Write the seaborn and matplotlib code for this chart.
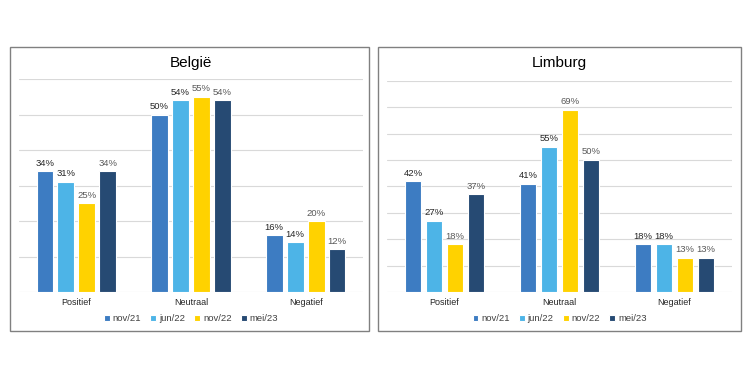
import matplotlib
matplotlib.use("Agg")
import matplotlib.pyplot as plt
from matplotlib.patches import Rectangle
import pandas as pd
import seaborn as sns

# ── Data ──────────────────────────────────────────────────────────────────────
categories = ["Positief", "Neutraal", "Negatief"]
periods = ["nov/21", "jun/22", "nov/22", "mei/23"]

belgie_nov21 = [34, 50, 16]
belgie_jun22 = [31, 54, 14]
belgie_nov22 = [25, 55, 20]
belgie_mei23 = [34, 54, 12]

limburg_nov21 = [42, 41, 18]
limburg_jun22 = [27, 55, 18]
limburg_nov22 = [18, 69, 13]
limburg_mei23 = [37, 50, 13]

# ── Style ─────────────────────────────────────────────────────────────────────
colors = ["#3D7CC2", "#4DB4E7", "#FFD200", "#264A73"]
label_colors = ["#262626", "#262626", "#595959", "#595959"]

sns.set_style("white")
plt.rcParams["font.family"] = ["Liberation Sans", "DejaVu Sans"]


def long_table(series):
    rows = []
    for period, values in zip(periods, series):
        for cat, v in zip(categories, values):
            rows.append({"categorie": cat, "periode": period, "waarde": v})
    return pd.DataFrame(rows)


def draw_panel(ax, series, title, ymax, title_y):
    df = long_table(series)
    sns.barplot(data=df, x="categorie", y="waarde", hue="periode",
                order=categories, hue_order=periods, palette=colors,
                width=0.73, gap=0.2, edgecolor="white", linewidth=0.8,
                saturation=1, ax=ax)
    for container, lc in zip(ax.containers, label_colors):
        ax.bar_label(container, fmt="%d%%", padding=2.5, color=lc,
                     fontsize=6.8)

    ax.set_xlim(-0.5, 2.5)
    ax.set_ylim(0, ymax)
    ax.set_yticks(range(0, ymax + 1, 10))
    ax.set_yticklabels([])
    ax.yaxis.grid(True, color="#D9D9D9", linewidth=0.8)
    ax.set_axisbelow(True)
    ax.tick_params(axis="both", length=0)
    ax.tick_params(axis="x", labelsize=6.5, pad=4.5, colors="#262626")
    ax.set_xlabel("")
    ax.set_ylabel("")
    for s in ax.spines.values():
        s.set_visible(False)

    ax.text(0.5, title_y, title, transform=ax.transAxes, ha="center",
            va="center", fontsize=11, color="#000000")

    sns.move_legend(ax, "center", bbox_to_anchor=(0.5, -0.125), ncol=4,
                    frameon=False, title=None, fontsize=6.8,
                    handlelength=0.6, handleheight=0.6, handletextpad=0.3,
                    columnspacing=1.0)
    for t in ax.get_legend().get_texts():
        t.set_color("#404040")


fig = plt.figure(figsize=(7.5, 3.79), dpi=100)

ax1 = fig.add_axes([19 / 750, 1 - 292 / 379, 344 / 750, 213 / 379])
ax2 = fig.add_axes([387 / 750, 1 - 292 / 379, 345 / 750, 211.3 / 379])

draw_panel(ax1, [belgie_nov21, belgie_jun22, belgie_nov22, belgie_mei23],
           "België", 60, 1.075)
draw_panel(ax2, [limburg_nov21, limburg_jun22, limburg_nov22, limburg_mei23],
           "Limburg", 80, 1.085)

# panel frames
for x0, x1 in [(10, 369), (378, 741)]:
    fig.add_artist(Rectangle((x0 / 750, 1 - 331 / 379), (x1 - x0) / 750,
                             (331 - 47) / 379, transform=fig.transFigure,
                             fill=False, edgecolor="#808080", linewidth=1))

fig.savefig("out.png", dpi=100)
